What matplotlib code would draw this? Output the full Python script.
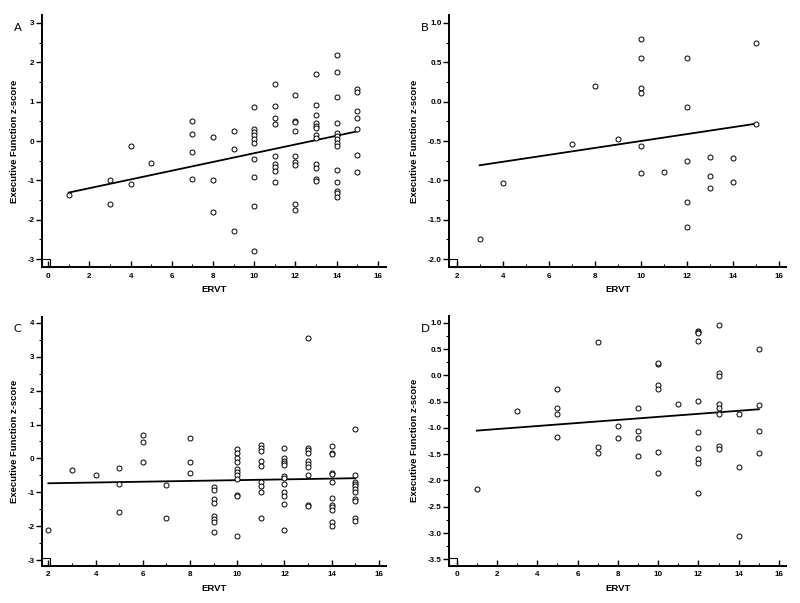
import numpy as np
import matplotlib
matplotlib.use("Agg")
import matplotlib.pyplot as plt
from matplotlib.patches import Rectangle
from matplotlib.ticker import MultipleLocator

plt.rcParams['font.family'] = ['Liberation Sans', 'DejaVu Sans']

# ---- Panel A ----
a_x = [1, 3, 3, 4, 4, 5, 7, 7, 7, 7,
       8, 8, 8, 9, 9, 9,
       10, 10, 10, 10, 10, 10, 10, 10, 10, 10,
       11, 11, 11, 11, 11, 11, 11, 11, 11,
       12, 12, 12, 12, 12, 12, 12, 12, 12,
       13, 13, 13, 13, 13, 13, 13, 13, 13, 13, 13, 13,
       14, 14, 14, 14, 14, 14, 14, 14, 14, 14, 14, 14, 14, 14,
       15, 15, 15, 15, 15, 15, 15]
a_y = [-1.36, -0.99, -1.59, -0.13, -1.10, -0.55, 0.50, 0.17, -0.28, -0.96,
       0.10, -0.99, -1.80, 0.25, -0.21, -2.29,
       0.86, 0.31, 0.23, 0.14, 0.06, -0.04, -0.46, -0.92, -1.64, -2.79,
       1.45, 0.88, 0.59, 0.43, -0.37, -0.58, -0.65, -0.75, -1.03,
       1.18, 0.51, 0.49, 0.26, -0.38, -0.54, -0.62, -1.59, -1.74,
       1.69, 0.92, 0.66, 0.47, 0.39, 0.32, 0.16, 0.08, -0.59, -0.69, -0.97, -1.01,
       2.19, 1.75, 1.12, 0.47, 0.21, 0.13, 0.04, -0.04, -0.13, -0.73, -1.03, -1.26, -1.33, -1.41,
       1.32, 1.25, 0.77, 0.58, 0.31, -0.36, -0.79]

# ---- Panel B ----
b_x = [3, 4, 7, 8, 9, 10, 10, 10, 10, 10, 10, 11,
       12, 12, 12, 12, 12, 13, 13, 13, 14, 14, 15, 15]
b_y = [-1.75, -1.03, -0.54, 0.20, -0.48, 0.79, 0.56, 0.17, 0.11, -0.56, -0.91, -0.89,
       0.56, -0.07, -0.75, -1.27, -1.59, -0.70, -0.95, -1.10, -0.71, -1.02, 0.74, -0.28]

# ---- Panel C ----
c_x = [2, 3, 4, 5, 5, 5, 6, 6, 6, 7, 7, 8, 8, 8,
       9, 9, 9, 9, 9, 9, 9, 9,
       10, 10, 10, 10, 10, 10, 10, 10, 10, 10, 10,
       11, 11, 11, 11, 11, 11, 11, 11, 11,
       12, 12, 12, 12, 12, 12, 12, 12, 12, 12, 12, 12,
       13, 13, 13, 13, 13, 13, 13, 13, 13, 13,
       14, 14, 14, 14, 14, 14, 14, 14, 14, 14, 14, 14,
       15, 15, 15, 15, 15, 15, 15, 15, 15, 15, 15]
c_y = [-2.10, -0.35, -0.50, -0.29, -0.75, -1.57, 0.69, 0.48, -0.10, -0.79, -1.77, 0.59, -0.10, -0.42,
       -0.84, -0.94, -1.20, -1.30, -1.71, -1.79, -1.88, -2.16,
       0.28, 0.17, 0.02, -0.11, -0.30, -0.40, -0.50, -0.60, -1.08, -1.12, -2.30,
       0.40, 0.32, 0.22, -0.08, -0.22, -0.69, -0.81, -0.98, -1.77,
       0.32, 0.02, -0.08, -0.13, -0.20, -0.52, -0.58, -0.74, -0.99, -1.12, -1.35, -2.12,
       3.56, 0.32, 0.24, 0.15, -0.07, -0.15, -0.26, -0.50, -1.37, -1.40,
       0.36, 0.17, 0.13, -0.42, -0.45, -0.69, -1.17, -1.37, -1.44, -1.52, -1.88, -1.98,
       0.88, -0.50, -0.69, -0.74, -0.81, -0.89, -1.00, -1.20, -1.26, -1.75, -1.85]

# ---- Panel D ----
d_x = [1, 3, 5, 5, 5, 5, 7, 7, 7, 8, 8, 9, 9, 9, 9,
       10, 10, 10, 10, 10, 10, 11,
       12, 12, 12, 12, 12, 12, 12, 12, 12, 12,
       13, 13, 13, 13, 13, 13, 13, 13,
       14, 14, 14, 15, 15, 15, 15]
d_y = [-2.16, -0.67, -0.26, -0.62, -0.74, -1.18, 0.64, -1.36, -1.48, -0.96, -1.19,
       -0.62, -1.06, -1.20, -1.54,
       0.21, 0.23, -0.18, -0.26, -1.45, -1.86, -0.55,
       0.85, 0.83, 0.80, 0.65, -0.49, -1.08, -1.39, -1.60, -1.66, -2.24,
       0.96, 0.05, -0.01, -0.54, -0.62, -0.73, -1.34, -1.41,
       -0.74, -1.75, -3.05, 0.50, -0.56, -1.05, -1.47]

# regression lines (intercept, slope)
fits = {"A": (-1.42, 0.111), "B": (-0.94, 0.044), "C": (-0.755, 0.0115), "D": (-1.08, 0.029)}

panels = [
    ("A", a_x, a_y, [0.0525, 0.5572, 0.430, 0.4179], (-0.3, 16.4), (-3.2, 3.2), 2, 1, 1, 0.5),
    ("B", b_x, b_y, [0.5616, 0.5572, 0.4209, 0.4179], (1.68, 16.3), (-2.1, 1.1), 2, 1, 0.5, 0.25),
    ("C", c_x, c_y, [0.0525, 0.0620, 0.430, 0.4128], (1.73, 16.3), (-3.16, 4.18), 2, 1, 1, 0.5),
    ("D", d_x, d_y, [0.5616, 0.0620, 0.4209, 0.4140], (-0.37, 16.35), (-3.62, 1.13), 2, 1, 0.5, 0.25),
]

fig = plt.figure(figsize=(8, 6.03), dpi=100)

for name, xs, ys, pos, xlim, ylim, xmaj, xmin, ymaj, ymin in panels:
    ax = fig.add_axes(pos)
    ax.plot(xs, ys, 'o', mfc='white', mec='black', ms=3.6, mew=0.7, zorder=3)
    b0, b1 = fits[name]
    lx = np.array([min(xs), max(xs)])
    ax.plot(lx, b0 + b1 * lx, color='black', lw=1.3, zorder=2)

    ax.set_xlim(*xlim)
    ax.set_ylim(*ylim)
    ax.xaxis.set_major_locator(MultipleLocator(xmaj))
    ax.xaxis.set_minor_locator(MultipleLocator(xmin))
    ax.yaxis.set_major_locator(MultipleLocator(ymaj))
    ax.yaxis.set_minor_locator(MultipleLocator(ymin))
    if ymaj == 0.5:
        ax.yaxis.set_major_formatter(matplotlib.ticker.FormatStrFormatter('%.1f'))
    else:
        ax.yaxis.set_major_formatter(matplotlib.ticker.FormatStrFormatter('%d'))

    for s in ['top', 'right']:
        ax.spines[s].set_visible(False)
    for s in ['left', 'bottom']:
        ax.spines[s].set_linewidth(1.4)

    ax.tick_params(axis='x', which='major', direction='in', length=4, width=1, labelsize=5.8, pad=4)
    ax.tick_params(axis='x', which='minor', direction='in', length=2, width=0.8)
    ax.tick_params(axis='y', which='major', direction='out', length=4, width=1, labelsize=5.8, pad=1.5)
    ax.tick_params(axis='y', which='minor', direction='out', length=2, width=0.8)
    for lab in ax.get_xticklabels() + ax.get_yticklabels():
        lab.set_fontweight('bold')

    ax.set_xlabel("ERVT", fontsize=6.8, fontweight='bold', labelpad=4)
    ax.set_ylabel("Executive Function z-score", fontsize=6.8, fontweight='bold', labelpad=6)

    # little open box at the origin corner
    bw = 8.0 / (pos[2] * 800)
    bh = 8.0 / (pos[3] * 603)
    ax.add_patch(Rectangle((0, 0), bw, bh, transform=ax.transAxes, fill=False,
                           lw=0.8, ec='black', clip_on=False, zorder=1))

    fig.text(pos[0] - 0.035, pos[1] + pos[3] - 0.02, name, fontsize=8.5,
             family=['Lato', 'DejaVu Sans'], ha='left', va='center')

fig.savefig("out.png", dpi=100)
